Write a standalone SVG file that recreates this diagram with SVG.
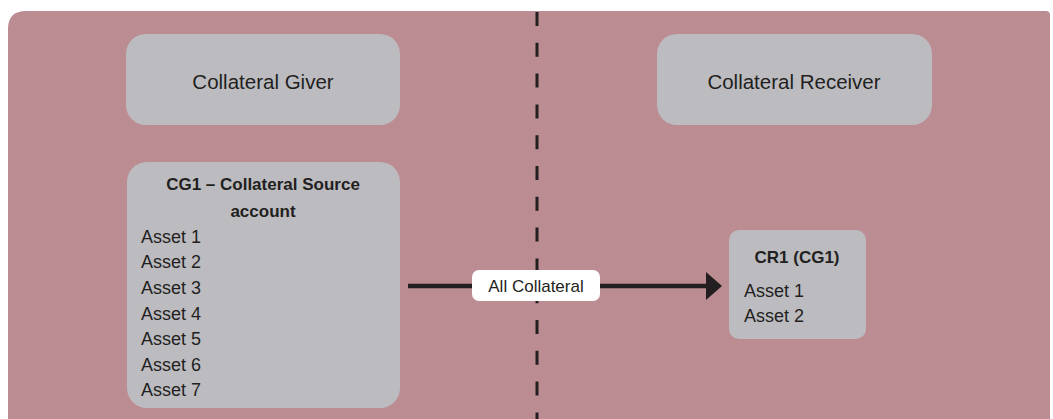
<svg xmlns="http://www.w3.org/2000/svg" width="1053" height="419" viewBox="0 0 1053 419">
<style>
.box{fill:#bcbcc0;}
.t{font-family:"Liberation Sans",Arial,sans-serif;fill:#231f20;}
.h{font-size:20.5px;text-anchor:middle;}
.a{font-size:18px;}
.b{font-size:17px;font-weight:bold;text-anchor:middle;}
.lab{font-size:17px;text-anchor:middle;}
</style>
<rect width="1053" height="419" fill="#ffffff"/>
<path d="M8,29 Q8,11 26,11 L1046,11 Q1050,11 1050,15 L1050,419 L8,419 Z" fill="#bb8c92"/>
<g id="divider">
<line x1="537" y1="12" x2="537" y2="419" stroke="#231f20" stroke-width="3" stroke-dasharray="14 16.8"/>
</g>
<g id="giver">
<rect class="box" x="126" y="34" width="274" height="91" rx="20"/>
<text class="t h" x="263" y="89">Collateral Giver</text>
</g>
<g id="receiver">
<rect class="box" x="657" y="34" width="275" height="91" rx="20"/>
<text class="t h" x="794" y="89">Collateral Receiver</text>
</g>
<g id="cg1">
<rect class="box" x="127" y="162" width="273" height="246" rx="20"/>
<text class="t b" x="263" y="190">CG1 – Collateral Source</text>
<text class="t b" x="263" y="217">account</text>
<text class="t a" x="141" y="243">Asset 1</text>
<text class="t a" x="141" y="268">Asset 2</text>
<text class="t a" x="141" y="294">Asset 3</text>
<text class="t a" x="141" y="320">Asset 4</text>
<text class="t a" x="141" y="345">Asset 5</text>
<text class="t a" x="141" y="371">Asset 6</text>
<text class="t a" x="141" y="396">Asset 7</text>
</g>
<g id="cr1">
<rect class="box" x="729" y="230" width="137" height="109" rx="10"/>
<text class="t b" x="797" y="263">CR1 (CG1)</text>
<text class="t a" x="744" y="297">Asset 1</text>
<text class="t a" x="744" y="322">Asset 2</text>
</g>
<g id="connectors">
<line x1="408" y1="286" x2="707" y2="286" stroke="#231f20" stroke-width="4.5"/>
<polygon points="706,272 722,286 706,300" fill="#231f20"/>
<rect x="472" y="270" width="128" height="31" rx="7" fill="#ffffff"/>
<text class="t lab" x="536" y="292">All Collateral</text>
</g>
</svg>
